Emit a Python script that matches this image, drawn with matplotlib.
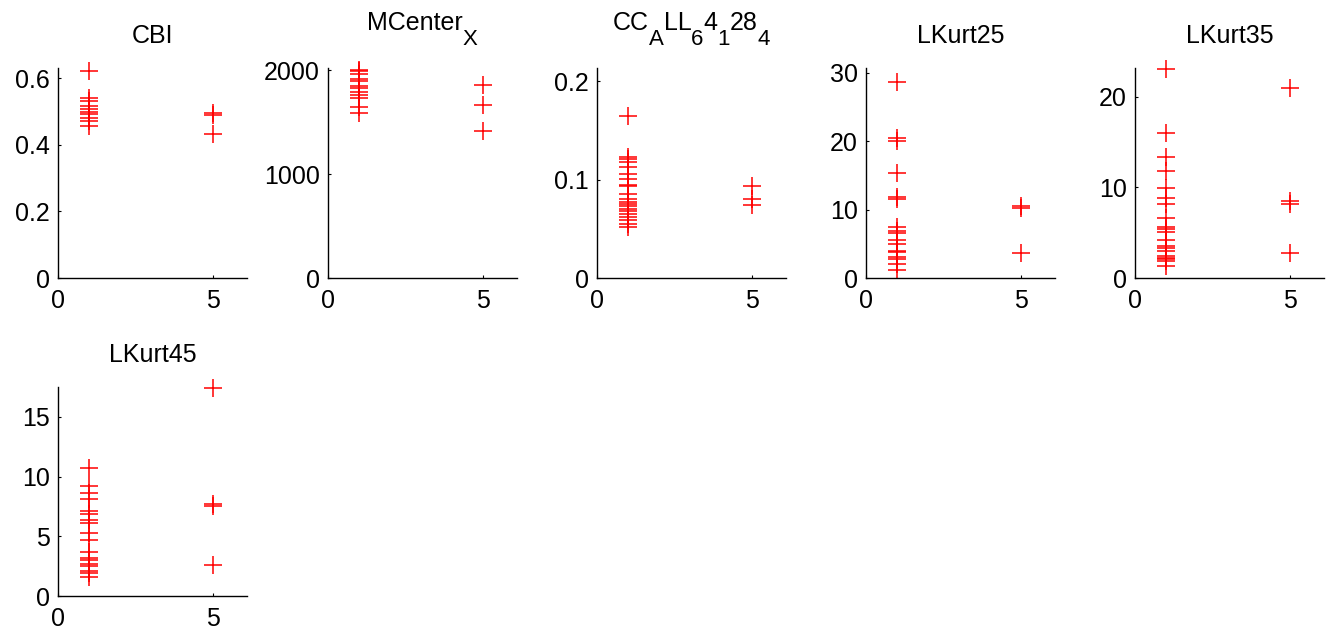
import matplotlib
matplotlib.use("Agg")
import matplotlib.pyplot as plt

plt.rcParams['font.family'] = ['Liberation Sans', 'DejaVu Sans']

# Titoli dei pannelli: pezzi (testo, pedice)
titoli = [
    [('CBI', False)],
    [('MCenter', False), ('X', True)],
    [('CC', False), ('A', True), ('LL', False), ('6', True), ('4', False), ('1', True),
     ('28', False), ('4', True)],
    [('LKurt25', False)],
    [('LKurt35', False)],
    [('LKurt45', False)],
]

# Classi sull'asse x
classe_a = 1
classe_b = 5

# Valori (classe 1 e classe 5)
cbi_1 = [0.622, 0.539, 0.531, 0.515, 0.508, 0.498, 0.492, 0.479, 0.472, 0.455]
cbi_5 = [0.494, 0.490, 0.431]

mcx_1 = [2003, 1990, 1965, 1912, 1892, 1850, 1828, 1785, 1762, 1728, 1647, 1585]
mcx_5 = [1856, 1663, 1413]

cc_1 = [0.165, 0.1226, 0.1209, 0.1175, 0.1124, 0.1057, 0.1007, 0.0946, 0.0933, 0.0855,
        0.0798, 0.0771, 0.0751, 0.0731, 0.0704, 0.0677, 0.0653, 0.062, 0.0586, 0.0552, 0.0518]
cc_5 = [0.093, 0.080, 0.074]

lk25_1 = [28.6, 20.4, 20.1, 15.3, 11.8, 11.5, 7.4, 6.8, 6.6, 5.5, 4.9, 4.0, 3.8, 3.1, 2.8, 2.1, 1.1]
lk25_5 = [10.5, 10.2, 3.6]

lk35_1 = [23.0, 16.0, 13.3, 11.8, 9.9, 8.8, 8.15, 6.6, 5.65, 5.45, 5.05, 4.15, 3.5, 3.3,
          2.95, 2.45, 2.25, 2.05, 1.85, 1.3]
lk35_5 = [21.0, 8.5, 8.15, 2.8]

lk45_1 = [10.7, 9.2, 8.6, 8.1, 7.1, 6.9, 6.35, 6.1, 5.25, 4.7, 3.7, 3.15, 3.0, 2.65, 2.5,
          2.1, 1.95, 1.6]
lk45_5 = [17.4, 7.7, 7.55, 2.6]

# Limiti e tick dell'asse y
y_max = [0.63, 2020, 0.2134, 30.7, 23.15, 17.5]
y_tick = [[0, 0.2, 0.4, 0.6], [0, 1000, 2000], [0, 0.1, 0.2], [0, 10, 20, 30],
          [0, 10, 20], [0, 5, 10, 15]]

serie = [(cbi_1, cbi_5), (mcx_1, mcx_5), (cc_1, cc_5), (lk25_1, lk25_5),
         (lk35_1, lk35_5), (lk45_1, lk45_5)]

W, H = 1326, 630
fig = plt.figure(figsize=(W / 100, H / 100), dpi=100)
renderer = fig.canvas.get_renderer()

sinistra = [58, 328, 597, 866, 1135]
righe = [(68, 278), (387, 596)]


def scrivi_titolo(pezzi, cx, top):
    # titolo stile TeX di MATLAB: pedici quasi a grandezza piena e piu' bassi
    ha_pedici = any(p[1] for p in pezzi)
    base = top - (38 if ha_pedici else 25)
    testi = []
    for txt, sub in pezzi:
        t = fig.text(0, 0, txt, fontsize=16 if sub else 18, va='baseline', ha='left')
        testi.append((t, sub))
    larghezze = [t.get_window_extent(renderer).width for t, _ in testi]
    x = cx - sum(larghezze) / 2
    for (t, sub), w in zip(testi, larghezze):
        y = base + 15 if sub else base
        t.set_position((x / W, 1 - y / H))
        x += w


for i in range(6):
    r, c = divmod(i, 5)
    top, bot = righe[r]
    ax = fig.add_axes([sinistra[c] / W, 1 - bot / H, 189 / W, (bot - top) / H])
    g1, g5 = serie[i]
    ax.plot([classe_a] * len(g1), g1, '+', color='#ff0000', markersize=13.5, mew=1.1, clip_on=False)
    ax.plot([classe_b] * len(g5), g5, '+', color='#ff0000', markersize=13.5, mew=1.1, clip_on=False)
    ax.set_xlim(0, 6.1)
    ax.set_ylim(0, y_max[i])
    ax.set_xticks([0, 5])
    ax.set_yticks(y_tick[i])
    ax.set_yticklabels([f"{v:g}" for v in y_tick[i]])
    ax.spines['top'].set_visible(False)
    ax.spines['right'].set_visible(False)
    ax.spines['left'].set_linewidth(1.0)
    ax.spines['bottom'].set_linewidth(1.0)
    ax.tick_params(direction='in', length=2.5, width=0.8, labelsize=18)
    ax.tick_params(axis='y', pad=6)
    ax.tick_params(axis='x', pad=8)
    scrivi_titolo(titoli[i], sinistra[c] + 189 / 2, top)

fig.savefig("out.png", dpi=100)
